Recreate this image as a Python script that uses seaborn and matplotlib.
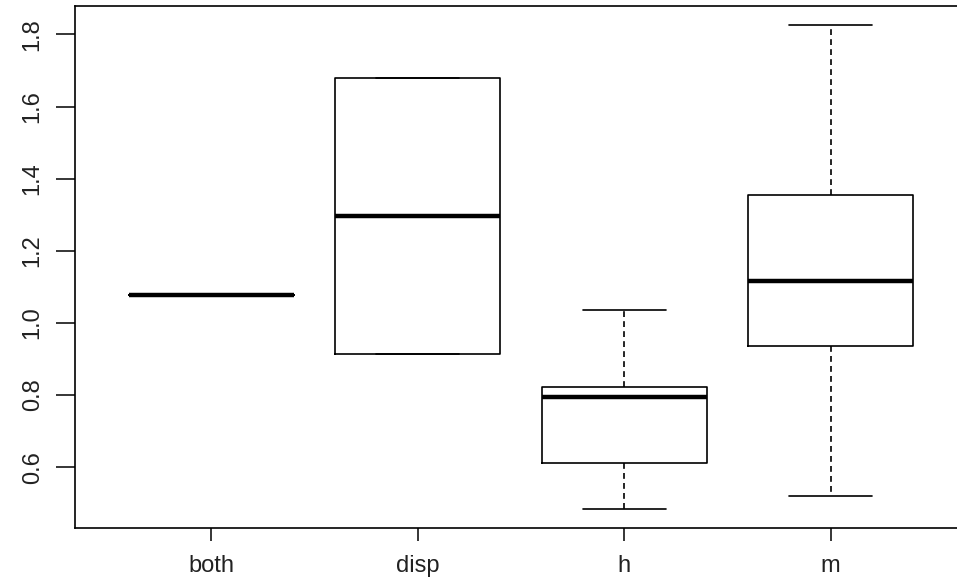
import pandas as pd
import seaborn as sns
import matplotlib.pyplot as plt

# five-number summaries (min, q1, median, q3, max)
groups = ['both', 'disp', 'h', 'm']
both_vals = [1.077]
disp_vals = [0.914, 0.914, 1.296, 1.679, 1.679]
h_vals = [0.485, 0.612, 0.794, 0.823, 1.036]
m_vals = [0.519, 0.935, 1.117, 1.356, 1.825]
yticks = [0.6, 0.8, 1.0, 1.2, 1.4, 1.6, 1.8]

rows = []
for g, vals in zip(groups, [both_vals, disp_vals, h_vals, m_vals]):
    for v in vals:
        rows.append({'group': g, 'value': v})
df = pd.DataFrame(rows)

sns.set_style('white')
plt.rcParams['font.family'] = ['Liberation Sans', 'DejaVu Sans']

fig = plt.figure(figsize=(9.57, 5.84), dpi=100)
# plot region runs past the right edge, as in the reference
ax = fig.add_axes([75 / 957, 56 / 584, 892 / 957, 522 / 584])

sns.boxplot(data=df, x='group', y='value', order=groups, ax=ax,
            fill=False, color='black', linecolor='black', width=0.8,
            linewidth=1.2, whis=1.5, showfliers=False,
            medianprops=dict(linewidth=3.2, color='black', solid_capstyle='butt'),
            whiskerprops=dict(linestyle=(0, (3.5, 2.5)), linewidth=1.2, color='black'),
            capprops=dict(linewidth=1.2, color='black'),
            boxprops=dict(linewidth=1.2, color='black'))

ax.set_xlim(-0.66, 3.66)
ax.set_ylim(0.431, 1.879)
ax.set_yticks(yticks)
ax.set_yticklabels([f'{t:.1f}' for t in yticks], rotation=90, va='center')
ax.set_xlabel('')
ax.set_ylabel('')

for s in ax.spines.values():
    s.set_visible(True)
    s.set_color('black')
    s.set_linewidth(1.2)

ax.tick_params(axis='y', direction='out', length=13.5, width=1.1, pad=9,
               labelsize=17, colors='black', left=True)
ax.tick_params(axis='x', direction='out', length=9.4, width=1.1, pad=10,
               labelsize=17, colors='black', bottom=True)
for lbl in ax.get_xticklabels() + ax.get_yticklabels():
    lbl.set_color('#222222')

fig.savefig('out.png', dpi=100)
print("Saved: out.png")
